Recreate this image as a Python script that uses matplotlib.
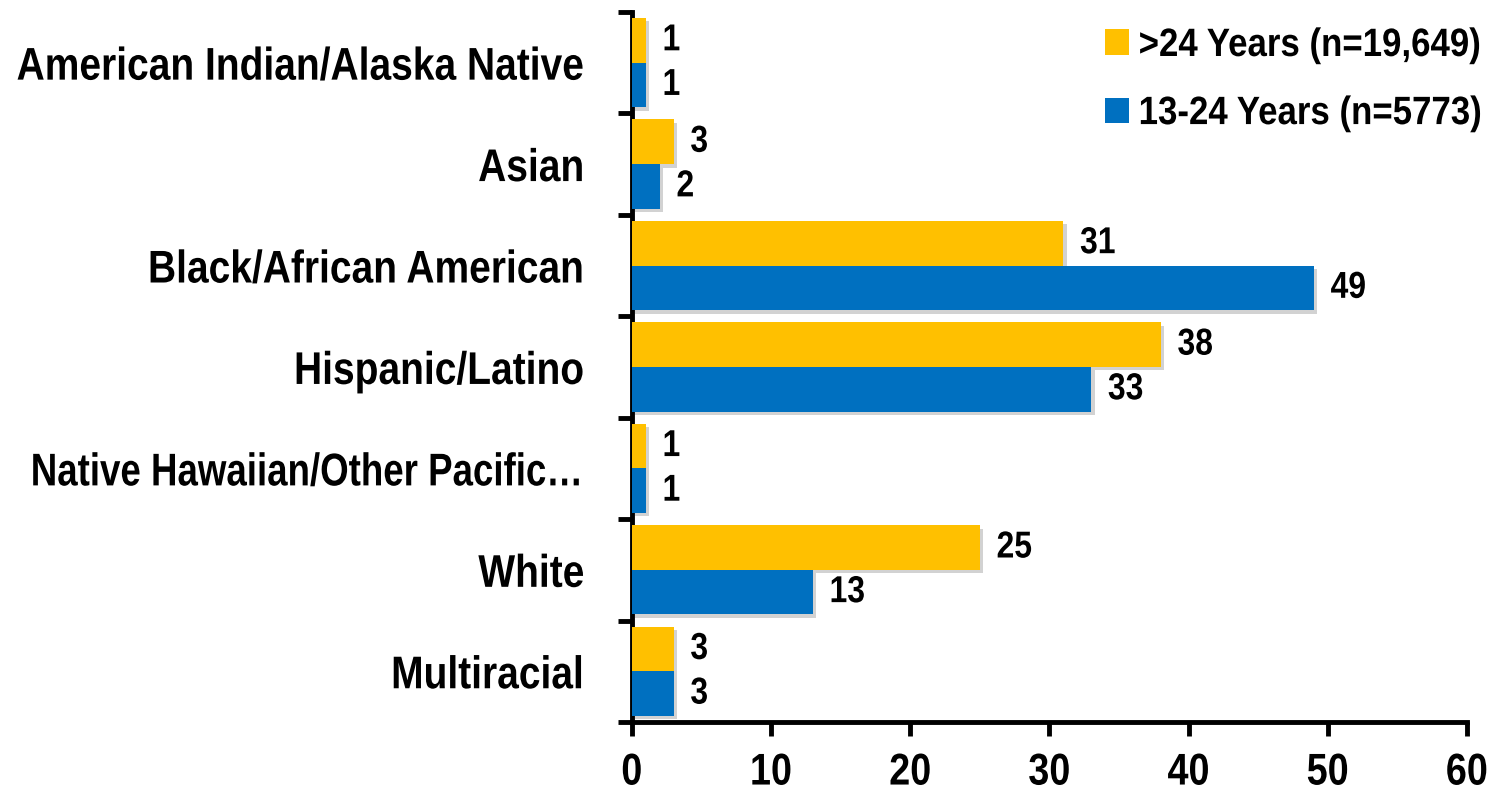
import matplotlib
matplotlib.use("Agg")
import matplotlib.pyplot as plt
import matplotlib.patheffects as pe
from matplotlib.transforms import Affine2D
import numpy as np

categories = ["American Indian/Alaska Native", "Asian", "Black/African American",
              "Hispanic/Latino", "Native Hawaiian/Other Pacific\u2026", "White", "Multiracial"]
older = [1, 3, 31, 38, 1, 25, 3]
younger = [1, 2, 49, 33, 1, 13, 3]
older_label = ">24 Years (n=19,649)"
younger_label = "13-24 Years (n=5773)"

plt.rcParams["font.family"] = ["Liberation Sans", "DejaVu Sans"]
plt.rcParams["font.weight"] = "bold"

yellow = "#FFC000"
blue = "#0070C0"


class Squeeze(pe.AbstractPathEffect):
    # narrow the glyphs horizontally (stand-in for Arial Narrow)
    def __init__(self, sx=0.85, anchor="left"):
        super().__init__()
        self.sx = sx
        self.anchor = anchor

    def draw_path(self, renderer, gc, tpath, affine, rgbFace=None):
        xmax = tpath.vertices[:, 0].max()
        x0 = {"left": 0.0, "right": xmax, "center": xmax / 2}[self.anchor]
        t = Affine2D().translate(-x0, 0).scale(self.sx, 1).translate(x0, 0) + affine
        renderer.draw_path(gc, tpath, t, rgbFace)


fig = plt.figure(figsize=(14.88, 7.94), dpi=100)
ax = fig.add_axes([0.4247, 0.0907, 0.5612, 0.8943])

y = np.arange(len(categories))
h = 0.44
shadow = [pe.SimplePatchShadow(offset=(2.5, -2.5), shadow_rgbFace="#808080", alpha=0.35), pe.Normal()]
b1 = ax.barh(y - h / 2, older, height=h, color=yellow, label=older_label, zorder=3)
b2 = ax.barh(y + h / 2, younger, height=h, color=blue, label=younger_label, zorder=3)
for bars in (b1, b2):
    for p in bars:
        p.set_path_effects(shadow)
    for t in ax.bar_label(bars, padding=12, fontsize=27, fontweight="bold"):
        t.set_path_effects([Squeeze(anchor="left")])

ax.set_xlim(0, 60)
ax.set_ylim(len(categories) - 0.5, -0.5)
ax.set_xticks(np.arange(0, 61, 10))
ax.set_yticks(y)
ax.set_yticklabels(categories, fontsize=33, fontweight="bold")
ax.set_yticks(np.arange(-0.5, len(categories)), minor=True)
ax.tick_params(axis="y", which="major", length=0, pad=34)
ax.tick_params(axis="y", which="minor", length=10, width=3.5)
ax.tick_params(axis="x", length=10, width=3.5, pad=12, labelsize=32)
for t in ax.get_yticklabels():
    # the ellipsis in Liberation Sans is much wider than in the original font
    sx = 0.80 if t.get_text().endswith("\u2026") else 0.85
    t.set_path_effects([Squeeze(sx=sx, anchor="right")])
for t in ax.get_xticklabels():
    t.set_fontweight("bold")
    t.set_path_effects([Squeeze(anchor="center")])

for s in ["top", "right"]:
    ax.spines[s].set_visible(False)
for s in ["left", "bottom"]:
    ax.spines[s].set_linewidth(3.5)

leg = fig.legend(handles=[b1, b2], loc="upper left", bbox_to_anchor=(1105 / 1488, 1 - 26 / 794),
                 frameon=False, prop={"size": 28.5, "weight": "bold"},
                 handlelength=0.6, handleheight=0.6, handletextpad=0.25, labelspacing=0.76,
                 borderpad=0, borderaxespad=0)
for t in leg.get_texts():
    t.set_path_effects([Squeeze(sx=0.88, anchor="left")])
for hnd in leg.legend_handles:
    hnd.set_path_effects([])

fig.savefig("out.png", dpi=100)
